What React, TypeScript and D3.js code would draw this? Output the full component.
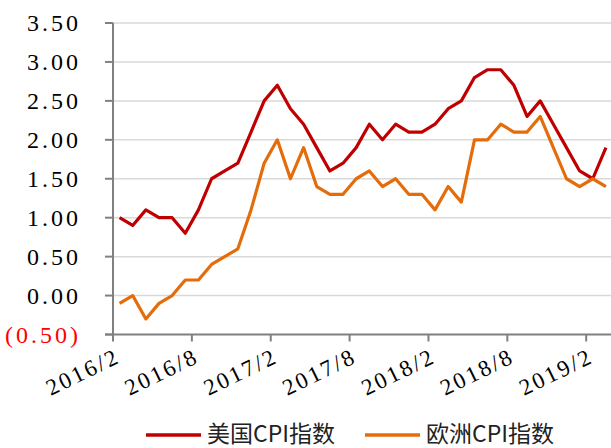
import React from 'react';
import { scaleBand, scaleLinear, line } from 'd3';

const months = [
  '2016/2', '2016/3', '2016/4', '2016/5', '2016/6', '2016/7', '2016/8', '2016/9', '2016/10', '2016/11', '2016/12',
  '2017/1', '2017/2', '2017/3', '2017/4', '2017/5', '2017/6', '2017/7', '2017/8', '2017/9', '2017/10', '2017/11', '2017/12',
  '2018/1', '2018/2', '2018/3', '2018/4', '2018/5', '2018/6', '2018/7', '2018/8', '2018/9', '2018/10', '2018/11', '2018/12',
  '2019/1', '2019/2', '2019/3',
];

const usCpi = [
  1.0, 0.9, 1.1, 1.0, 1.0, 0.8, 1.1, 1.5, 1.6, 1.7, 2.1,
  2.5, 2.7, 2.4, 2.2, 1.9, 1.6, 1.7, 1.9, 2.2, 2.0, 2.2, 2.1,
  2.1, 2.2, 2.4, 2.5, 2.8, 2.9, 2.9, 2.7, 2.3, 2.5, 2.2, 1.9,
  1.6, 1.5, 1.9,
];

const euCpi = [
  -0.1, 0.0, -0.3, -0.1, 0.0, 0.2, 0.2, 0.4, 0.5, 0.6, 1.1,
  1.7, 2.0, 1.5, 1.9, 1.4, 1.3, 1.3, 1.5, 1.6, 1.4, 1.5, 1.3,
  1.3, 1.1, 1.4, 1.2, 2.0, 2.0, 2.2, 2.1, 2.1, 2.3, 1.9, 1.5,
  1.4, 1.5, 1.4,
];

const yTicks = [-0.5, 0, 0.5, 1, 1.5, 2, 2.5, 3, 3.5];
const xTickLabels = ['2016/2', '2016/8', '2017/2', '2017/8', '2018/2', '2018/8', '2019/2'];

const series = [
  { name: '美国CPI指数', values: usCpi, color: '#c00000' },
  { name: '欧洲CPI指数', values: euCpi, color: '#e46c0a' },
];

const width = 611;
const height = 448;
const left = 113;
const right = 612.5;
const top = 23;
const bottom = 334.5;

const fmt = (v: number) => (v < 0 ? `(${Math.abs(v).toFixed(2)})` : v.toFixed(2));

export default function App() {
  const x = scaleBand<string>().domain(months).range([left, right]).padding(0);
  const y = scaleLinear().domain([-0.5, 3.5]).range([bottom, top]);
  const bw = x.bandwidth();

  const path = line<number>()
    .x((_, i) => (x(months[i]) as number) + bw / 2)
    .y(d => y(d));

  const serif = "'Liberation Serif', 'DejaVu Serif', serif";
  const sans = "'Noto Sans CJK SC', 'Noto Sans', sans-serif";

  return (
    <svg width={width} height={height} style={{ position: 'absolute', left: 0, top: 0 }}>
      {/* grid */}
      {yTicks.filter(t => t > -0.5).map(t => (
        <line key={'g' + t} x1={left} x2={width} y1={y(t)} y2={y(t)} stroke='#d9d9d9' strokeWidth={1.5} />
      ))}

      {/* y axis */}
      <line x1={left} x2={left} y1={top} y2={bottom} stroke='#808080' strokeWidth={2} />
      {yTicks.map(t => (
        <g key={'y' + t}>
          <line x1={left - 8} x2={left} y1={y(t)} y2={y(t)} stroke='#808080' strokeWidth={2} />
          <text
            x={81}
            y={y(t)}
            dy='0.35em'
            textAnchor='end'
            style={{ fontFamily: serif, fontSize: 24, letterSpacing: 3 }}
            fill={t < 0 ? '#ff0000' : '#000'}
          >
            {fmt(t)}
          </text>
        </g>
      ))}

      {/* x axis */}
      <line x1={left - 8} x2={width} y1={bottom} y2={bottom} stroke='#808080' strokeWidth={2} />
      {xTickLabels.map(m => {
        const x0 = x(m) as number;
        const cx = x0 + bw / 2;
        return (
          <g key={'x' + m}>
            <line x1={x0} x2={x0} y1={bottom} y2={bottom + 7} stroke='#808080' strokeWidth={2} />
            <text
              transform={`translate(${cx + 2}, ${bottom + 27}) rotate(-26)`}
              textAnchor='end'
              style={{ fontFamily: serif, fontSize: 23, letterSpacing: 2.5 }}
              fill='#000'
            >
              {m}
            </text>
          </g>
        );
      })}

      {/* lines */}
      {series.map(s => (
        <path key={s.name} d={path(s.values) as string} fill='none' stroke={s.color} strokeWidth={3.2} strokeLinejoin='round' />
      ))}

      {/* legend */}
      {series.map((s, i) => {
        const lx = i === 0 ? 146 : 365;
        return (
          <g key={'l' + s.name}>
            <line x1={lx} x2={lx + 55} y1={435} y2={435} stroke={s.color} strokeWidth={3.5} />
            <text x={lx + 61} y={442} style={{ fontFamily: sans, fontSize: 23 }} fill='#222'>
              {s.name}
            </text>
          </g>
        );
      })}
    </svg>
  );
}
